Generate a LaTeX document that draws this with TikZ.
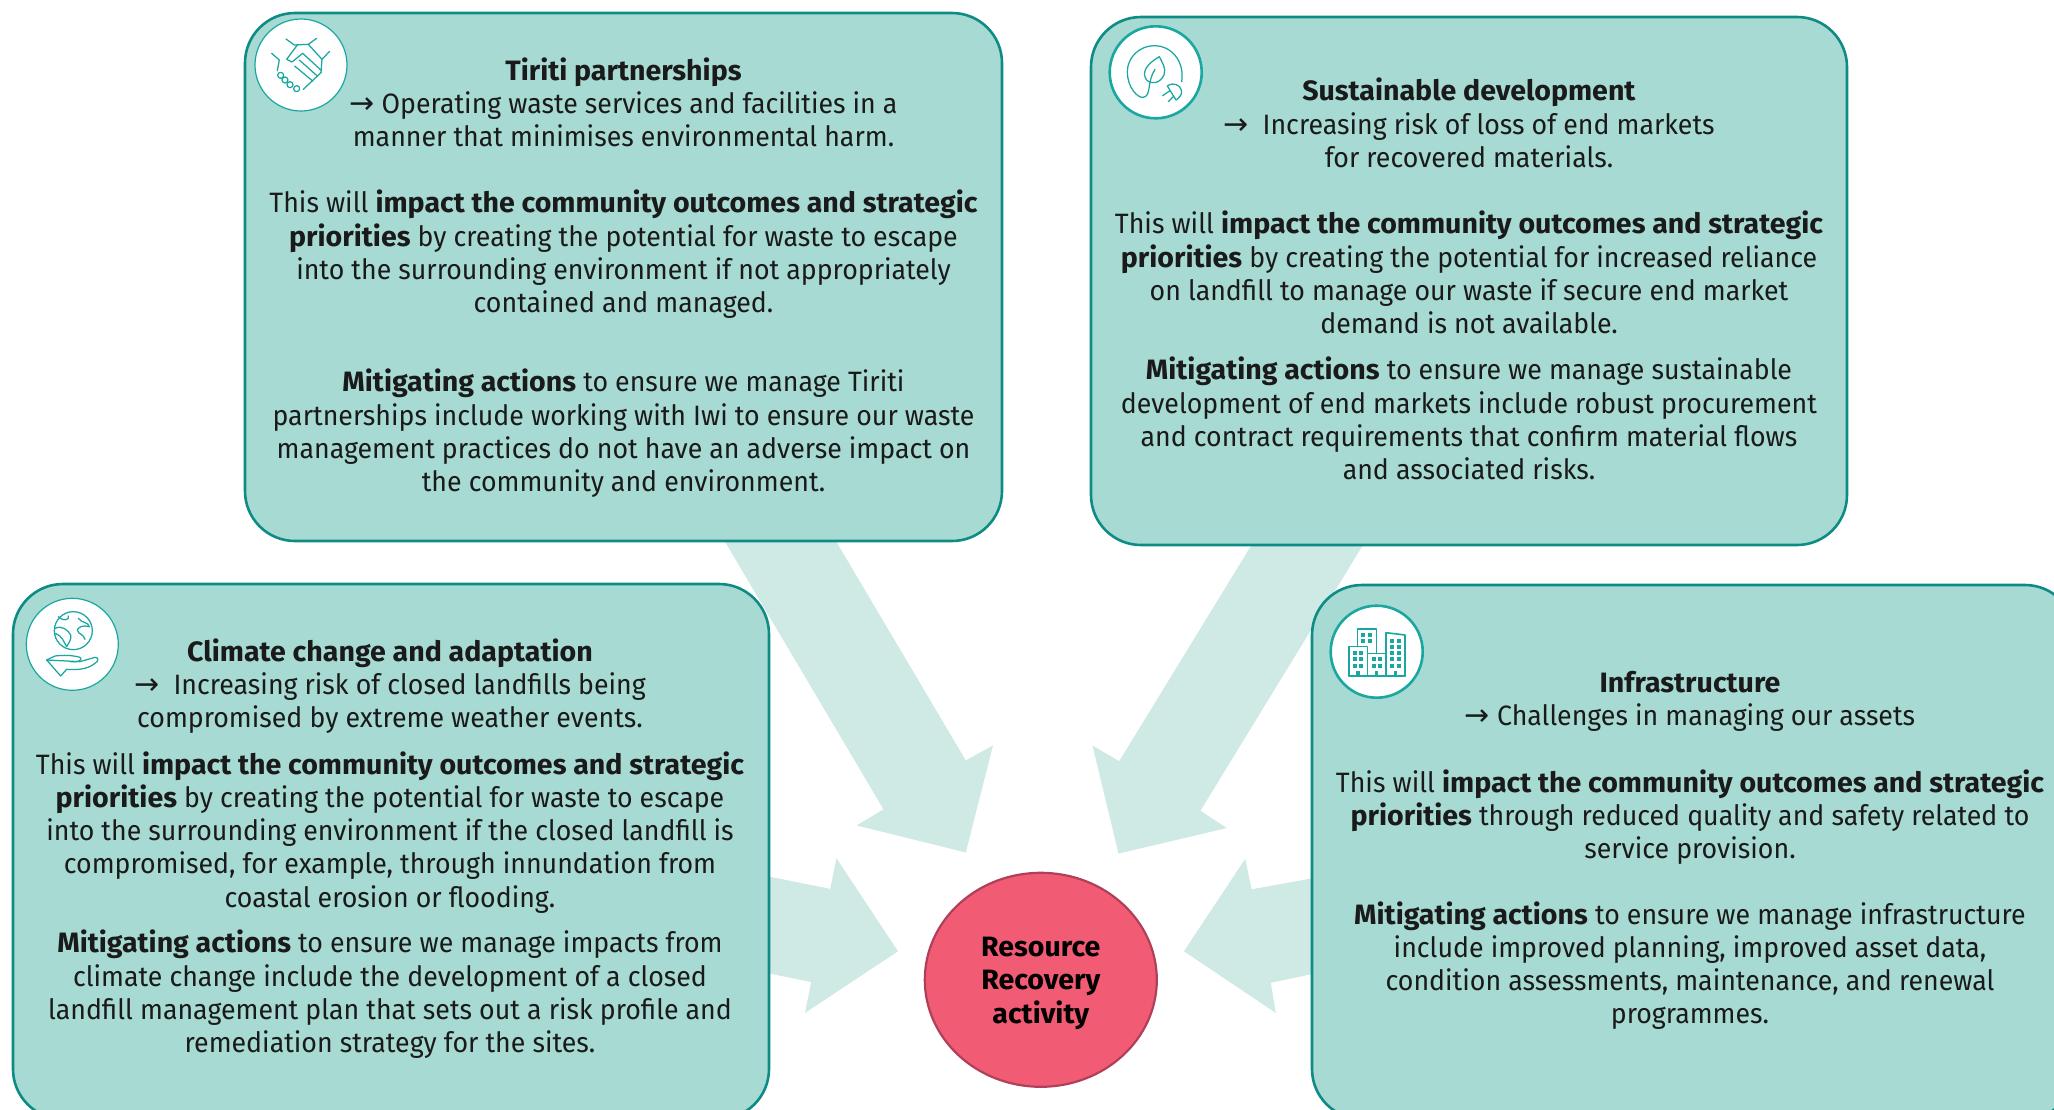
\documentclass[tikz,border=0pt]{standalone}
\usepackage{fontspec}
\setmainfont[FakeStretch=0.955,BoldFeatures={FakeStretch=1.02}]{Fira Sans}
\newfontfamily\arrfont{DejaVu Sans}
\usetikzlibrary{shapes.geometric}
\definecolor{boxfill}{HTML}{A6DAD2}
\definecolor{boxline}{HTML}{0F8B85}
\definecolor{arrowfill}{HTML}{CFE9E4}
\definecolor{iconline}{HTML}{1AA7A1}
\definecolor{hubfill}{HTML}{F15B73}
\definecolor{hubline}{HTML}{B0405A}
\definecolor{inktext}{HTML}{1A1A1A}
\tikzset{
  panel/.style={draw=boxline,line width=2.6pt,fill=boxfill,rounded corners=50pt},
  bigarrow/.style={fill=arrowfill,draw=none},
  para/.style={align=center,inner sep=0pt,text=inktext,font=\fontsize{28}{33.2}\selectfont},
  badge/.style={circle,draw=iconline,fill=white,minimum size=92pt,inner sep=0pt},
  glyph/.style={draw=iconline,line width=1.25pt,line join=round,line cap=round,fill=none},
}
\newcommand{\ar}{\smash{\arrfont\fontsize{30}{33.2}\selectfont →}}
\begin{document}
\begin{tikzpicture}[x=1pt,y=-1pt]
\useasboundingbox (0,0) rectangle (2054,1109);
\clip (0,0) rectangle (2054,1109);
% big arrows
\fill[bigarrow] (708,513) -- (883.5,809.3) -- (856.7,825.4) -- (965.8,852.5) -- (993,745.4) -- (965.8,760.4) -- (819.3,513) -- cycle;
\fill[bigarrow] (1268,518) -- (1119.2,761.2) -- (1092.5,745.4) -- (1118.5,853.6) -- (1226.8,828) -- (1200.4,810.8) -- (1379.5,518) -- cycle;
\fill[bigarrow] (740,870.7) -- (830.3,888.9) -- (836.4,858.1) -- (898,951.3) -- (805,1012.9) -- (811.2,982) -- (740,967.6) -- cycle;
\fill[bigarrow] (1340,873.3) -- (1251.7,889.3) -- (1245.2,858.8) -- (1183.9,951.3) -- (1275.8,1012.9) -- (1270.8,982.8) -- (1340,968.2) -- cycle;
% panels
\draw[panel] (245,13) rectangle (1002,541);
\draw[panel] (1091,17) rectangle (1847,545);
\draw[panel] (13,584) rectangle (769,1119);
\draw[panel] (1312,585) rectangle (2075,1119);
% hub
\node[ellipse,draw=hubline,fill=hubfill,line width=2.2pt,minimum width=232pt,minimum height=214pt,inner sep=0pt] (hub) at (1040.8,979.8) {};
\node[align=center,inner sep=0pt,font=\fontsize{28}{33.6}\selectfont\bfseries,text=black] (hubtext) at (1040.8,983) {Resource\\Recovery\\activity};
% Tiriti
\node[para] (t1) at (623.5,107) {\strut\textbf{Tiriti partnerships}\\\ar\ Operating waste services and facilities in a\\manner that minimises environmental harm.\strut};
\node[para] (t2) at (623.5,256) {\strut This will \textbf{impact the community outcomes and strategic}\\\textbf{priorities} by creating the potential for waste to escape\\into the surrounding environment if not appropriately\\contained and managed.\strut};
\node[para] (t3) at (623.5,435) {\strut\textbf{Mitigating actions} to ensure we manage Tiriti\\partnerships include working with Iwi to ensure our waste\\management practices do not have an adverse impact on\\the community and environment.\strut};
% Sustainable
\node[para] (s1) at (1469,127.5) {\strut\textbf{Sustainable development}\\\ar\ \ Increasing risk of loss of end markets\\for recovered materials.\strut};
\node[para] (s2) at (1469,277) {\strut This will \textbf{impact the community outcomes and strategic}\\\textbf{priorities} by creating the potential for increased reliance\\on landfill to manage our waste if secure end market\\demand is not available.\strut};
\node[para] (s3) at (1469,423) {\strut\textbf{Mitigating actions} to ensure we manage sustainable\\development of end markets include robust procurement\\and contract requirements that confirm material flows\\and associated risks.\strut};
% Climate
\node[para] (c1) at (390,688) {\strut\textbf{Climate change and adaptation}\\\ar\ \ Increasing risk of closed landfills being\\compromised by extreme weather events.\strut};
\node[para] (c2) at (390,834) {\strut This will \textbf{impact the community outcomes and strategic}\\\textbf{priorities} by creating the potential for waste to escape\\into the surrounding environment if the closed landfill is\\compromised, for example, through innundation from\\coastal erosion or flooding.\strut};
\node[para] (c3) at (390,996) {\strut\textbf{Mitigating actions} to ensure we manage impacts from\\climate change include the development of a closed\\landfill management plan that sets out a risk profile and\\remediation strategy for the sites.\strut};
% Infrastructure
\node[para] (i1) at (1690,702) {\strut\textbf{Infrastructure}\\\ar\ Challenges in managing our assets\strut};
\node[para] (i2) at (1690,819) {\strut This will \textbf{impact the community outcomes and strategic}\\\textbf{priorities} through reduced quality and safety related to\\service provision.\strut};
\node[para] (i3) at (1690,967.5) {\strut\textbf{Mitigating actions} to ensure we manage infrastructure\\include improved planning, improved asset data,\\condition assessments, maintenance, and renewal\\programmes.\strut};
% badges
\node[badge,line width=1.2pt] (b1) at (301,65) {};
\node[badge,line width=2.6pt] (b2) at (1155.7,72.3) {};
\node[badge,line width=1.2pt] (b3) at (72.3,644.3) {};
\node[badge,line width=2.6pt] (b4) at (1376.7,651.7) {};
% handshake
\begin{scope}[shift={(240,0)},x=.3333pt,y=-.3333pt,glyph]
\draw (138,117) -- (163,135) -- (205,133) -- (230,115);
\draw (172,135) -- (140,178) -- (156,186) -- (188,160) -- (245,212);
\draw (95,160) -- (118,180) -- (112,212);
\draw (268,155) -- (246,178) -- (243,218);
\draw (205,133) -- (246,178);
\draw (178,180) -- (232,228);
\draw (164,198) -- (218,243);
\draw (243,218) -- (190,268);
\draw (122,226) circle (9);
\draw (135,240) circle (9);
\draw (150,254) circle (9);
\draw (170,266) circle (9);
\end{scope}
% leaf and plug
\begin{scope}[shift={(1090,10)},x=.3333pt,y=-.3333pt,glyph]
\draw (275,215) .. controls (285,150) and (240,107) .. (195,107) .. controls (145,107) and (112,145) .. (112,185) .. controls (112,235) and (145,265) .. (160,262) .. controls (185,258) and (170,215) .. (195,178);
\draw (208,140) .. controls (165,165) and (155,190) .. (170,210) .. controls (185,225) and (210,220) .. (222,195) .. controls (230,175) and (215,155) .. (208,140) -- cycle;
\draw (232,228) .. controls (250,215) and (270,225) .. (274,240) .. controls (278,255) and (268,262) .. (258,270) -- cycle;
\draw (218,257) -- (240,242);
\draw (235,275) -- (252,258);
\end{scope}
% globe and hand
\begin{scope}[shift={(0,580)},x=.3333pt,y=-.3333pt,glyph]
\draw (220,152) circle (57);
\draw (175,110) .. controls (190,125) and (210,120) .. (205,108);
\draw (165,145) .. controls (185,135) and (205,150) .. (212,165) .. controls (215,180) and (205,190) .. (200,200) .. controls (190,185) and (190,170) .. (165,160);
\draw (235,115) .. controls (245,130) and (265,125) .. (268,140) .. controls (250,135) and (235,140) .. (232,150) .. controls (235,165) and (250,160) .. (255,178);
\draw (140,240) -- (165,228) .. controls (190,225) and (215,225) .. (240,232) .. controls (250,240) and (235,248) .. (210,245);
\draw (240,245) -- (285,232) .. controls (298,232) and (295,245) .. (285,250) .. controls (260,270) and (225,270) .. (200,268) -- (182,288) -- (140,240) -- cycle;
\end{scope}
% buildings
\begin{scope}[shift={(1300,580)},x=.3333pt,y=-.3333pt,glyph,line width=1.6pt]
\draw (172,200) -- (172,147) -- (230,147) -- (230,218);
\draw (147,288) -- (147,200) -- (203,200) -- (203,288);
\draw (203,220) -- (258,220);
\draw (258,288) -- (258,158) -- (315,165) -- (315,288);
\draw (147,288) -- (315,288);
\foreach \wx/\wy in {183/160,204/160,183/178,204/178,159/213,178/213,159/232,178/232,159/252,178/252,216/232,235/232,216/252,235/252,270/178,291/178,270/196,291/196,270/213,291/213,270/232,291/232,270/252,291/252}
  \fill[iconline,draw=none] (\wx,\wy) rectangle ++(12,12);
\foreach \dx in {169,225,281}
  \fill[iconline,draw=none] (\dx,272) rectangle ++(10,16);
\end{scope}
\end{tikzpicture}
\end{document}
